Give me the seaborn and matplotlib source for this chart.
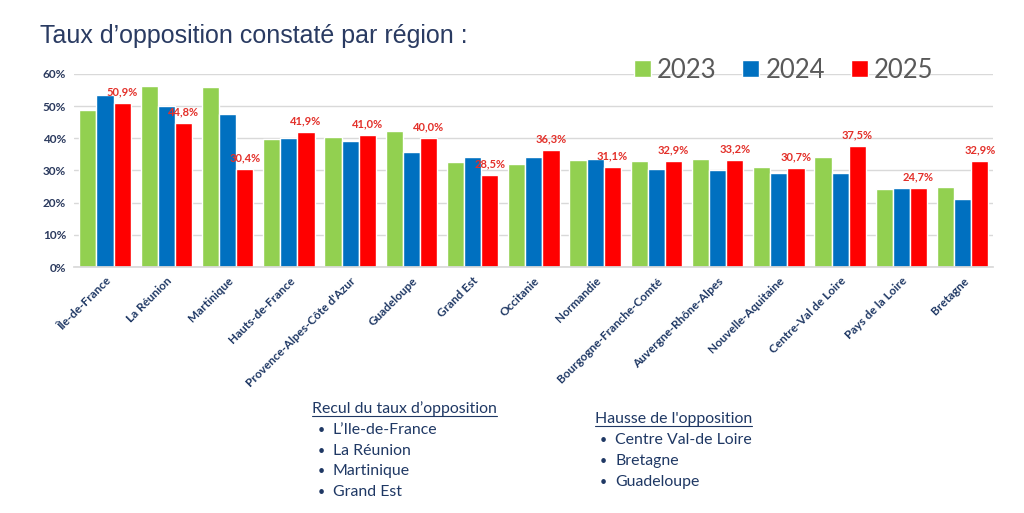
import matplotlib.pyplot as plt
import pandas as pd
import seaborn as sns
from matplotlib.lines import Line2D

regions = ["Île-de-France", "La Réunion", "Martinique", "Hauts-de-France",
           "Provence-Alpes-Côte d'Azur", "Guadeloupe", "Grand Est", "Occitanie",
           "Normandie", "Bourgogne-Franche-Comté", "Auvergne-Rhône-Alpes",
           "Nouvelle-Aquitaine", "Centre-Val de Loire", "Pays de la Loire", "Bretagne"]
taux_2023 = [48.9, 56.1, 55.8, 39.9, 40.5, 42.4, 32.6, 32.0, 33.3, 32.9, 33.6, 31.1, 34.3, 24.1, 24.8]
taux_2024 = [53.5, 49.9, 47.6, 40.0, 39.0, 35.7, 34.3, 34.3, 33.6, 30.4, 30.2, 29.1, 29.1, 24.5, 21.2]
taux_2025 = [50.9, 44.8, 30.4, 41.9, 41.0, 40.0, 28.5, 36.3, 31.1, 32.9, 33.2, 30.7, 37.5, 24.7, 32.9]
years = ["2023", "2024", "2025"]
colors = ["#92d050", "#0070c0", "#ff0000"]

recul = ["L\u2019Ile-de-France", "La Réunion", "Martinique", "Grand Est"]
hausse = ["Centre Val-de Loire", "Bretagne", "Guadeloupe"]

df = pd.DataFrame({
    "region": regions * 3,
    "taux": taux_2023 + taux_2024 + taux_2025,
    "annee": [y for y in years for _ in regions],
})

sns.set_theme(style="white")
plt.rcParams["font.family"] = ["Lato", "DejaVu Sans"]
navy = "#1f3864"

fig = plt.figure(figsize=(10.24, 5.13), dpi=100)
ax = fig.add_axes([0.0727, 0.4795, 0.8973, 0.3765])

sns.barplot(data=df, x="region", y="taux", hue="annee", palette=colors,
            width=0.84, saturation=1, ax=ax, legend=True)

ax.set_ylim(0, 60)
ax.set_xlim(-0.5, len(regions) - 0.5)
ax.set_yticks(range(0, 61, 10))
ax.set_yticklabels([f"{v}%" for v in range(0, 61, 10)], fontsize=8.5,
                   fontweight="bold", color="#2b3a5e")
ax.yaxis.grid(True, color="#d9d9d9", linewidth=1)
ax.set_axisbelow(True)
for s in ["left", "right", "top"]:
    ax.spines[s].set_visible(False)
ax.spines["bottom"].set_color("#d9d9d9")
ax.tick_params(axis="both", length=0, pad=6)
ax.set_xlabel("")
ax.set_ylabel("")
ax.set_xticks(range(len(regions)))
ax.set_xticklabels(regions, rotation=45, ha="right", rotation_mode="anchor",
                   fontsize=8.5, fontweight="bold", color=navy)

ax.bar_label(ax.containers[2], labels=[f"{v:.1f}%".replace(".", ",") for v in taux_2025],
             padding=4, color="#e3302a", fontsize=8, fontweight="bold")

leg = ax.legend(loc="center right", bbox_to_anchor=(0.935, 1.02), ncol=3, frameon=False,
                fontsize=18.5, handlelength=0.65, handleheight=0.65, handletextpad=0.25,
                columnspacing=1.0, borderpad=0, borderaxespad=0)
for t in leg.get_texts():
    t.set_color("#595959")

fig.text(0.039, 0.93, "Taux d\u2019opposition constaté par région :", fontsize=18,
         color="#2a3b62", family=["Liberation Sans", "DejaVu Sans"], va="center")

# bottom notes
def block(x, y, title, items):
    t = fig.text(x, y, title, fontsize=11.4, color=navy, va="baseline")
    fig.canvas.draw()
    bb = t.get_window_extent().transformed(fig.transFigure.inverted())
    fig.add_artist(Line2D([bb.x0, bb.x1], [y - 0.006, y - 0.006], color=navy,
                          linewidth=0.8, transform=fig.transFigure))
    for i, it in enumerate(items):
        yy = y - (i + 1) * 0.0405
        fig.text(x + 0.005, yy, "\u2022", fontsize=9, color=navy, va="baseline")
        fig.text(x + 0.02, yy, it, fontsize=11.4, color=navy, va="baseline")

block(0.305, 0.195, "Recul du taux d\u2019opposition", recul)
block(0.581, 0.175, "Hausse de l'opposition", hausse)

fig.savefig("out.png", dpi=100)
